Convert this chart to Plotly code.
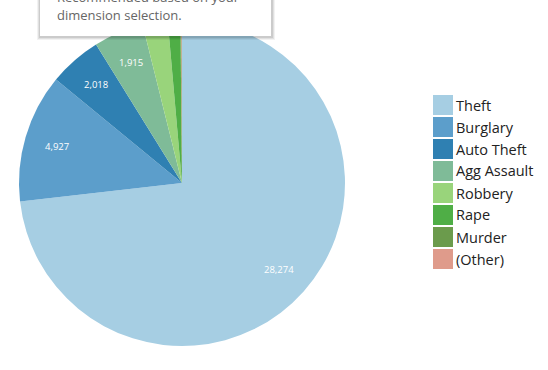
import math
import plotly.graph_objects as go

# ---- data ----
categories = ["Theft", "Burglary", "Auto Theft", "Agg Assault", "Robbery", "Rape", "Murder", "(Other)"]
counts = [28274, 4927, 2018, 1915, 960, 480, 40, 20]
show_label = [True, True, True, True, False, False, False, False]
colors = ["#a6cee3", "#5c9ecb", "#2f80b2", "#7fbb98", "#99d47b", "#4fae46", "#6b9b4c", "#df9b8b"]
tooltip_lines = ["Recommended based on your", "dimension selection."]

W, H = 548, 370
CX, CY, R = 182, 183, 163  # pie centre / radius in pixels

def px_x(x):
    return x / W

def px_y(y):
    return 1 - y / H

fig = go.Figure()
fig.add_trace(go.Pie(
    labels=categories,
    values=counts,
    textinfo="none",
    marker=dict(colors=colors, line=dict(width=0)),
    sort=False,
    direction="clockwise",
    rotation=0,
    showlegend=False,
    hoverinfo="label+value",
    domain=dict(x=[px_x(CX - R), px_x(CX + R)], y=[px_y(CY + R), px_y(CY - R)]),
))

shapes = []
annotations = []

# value labels at 0.8 of the radius, on each slice's mid-angle (derived from data)
total = sum(counts)
cum = 0
for v, s in zip(counts, show_label):
    mid = (cum + v / 2) / total * 2 * math.pi
    cum += v
    if not s:
        continue
    x = CX + 0.8 * R * math.sin(mid)
    y = CY - 0.8 * R * math.cos(mid)
    annotations.append(dict(text=f"{v:,}", xref="paper", yref="paper",
                            x=px_x(x), y=px_y(y), xanchor="center", yanchor="middle",
                            showarrow=False,
                            font=dict(family="Open Sans", size=9.5, color="white")))

# tooltip box with soft shadow
for i, op in enumerate([0.05, 0.07, 0.09]):
    d = 3 - i
    shapes.append(dict(type="rect", xref="paper", yref="paper",
                       x0=px_x(40 - d), x1=px_x(272 + d), y0=px_y(37 + d), y1=px_y(-20),
                       fillcolor=f"rgba(0,0,0,{op})", line=dict(width=0), layer="above"))
shapes.append(dict(type="rect", xref="paper", yref="paper",
                   x0=px_x(40), x1=px_x(271), y0=px_y(36), y1=px_y(-20),
                   fillcolor="white", line=dict(width=0), layer="above"))
for i, line in enumerate(tooltip_lines):
    annotations.append(dict(text=line, xref="paper", yref="paper",
                            x=px_x(55), y=px_y(-3 + 18 * i), xanchor="left", yanchor="middle",
                            showarrow=False,
                            font=dict(family="Open Sans", size=13, color="#666666")))

# legend
for i, (cat, col) in enumerate(zip(categories, colors)):
    top = 95 + 22 * i
    shapes.append(dict(type="rect", xref="paper", yref="paper",
                       x0=px_x(433), x1=px_x(453), y0=px_y(top + 20), y1=px_y(top),
                       fillcolor=col, line=dict(width=0)))
    annotations.append(dict(text=cat, xref="paper", yref="paper",
                            x=px_x(454), y=px_y(top + 10), xanchor="left", yanchor="middle",
                            showarrow=False,
                            font=dict(family="Open Sans", size=14.5, color="#222222")))

fig.update_layout(
    width=W, height=H,
    margin=dict(l=0, r=0, t=0, b=0),
    paper_bgcolor="white",
    plot_bgcolor="white",
    shapes=shapes,
    annotations=annotations,
)

fig.write_html("out.html", config={"displayModeBar": False},
               post_script="document.body.style.margin='0';")
